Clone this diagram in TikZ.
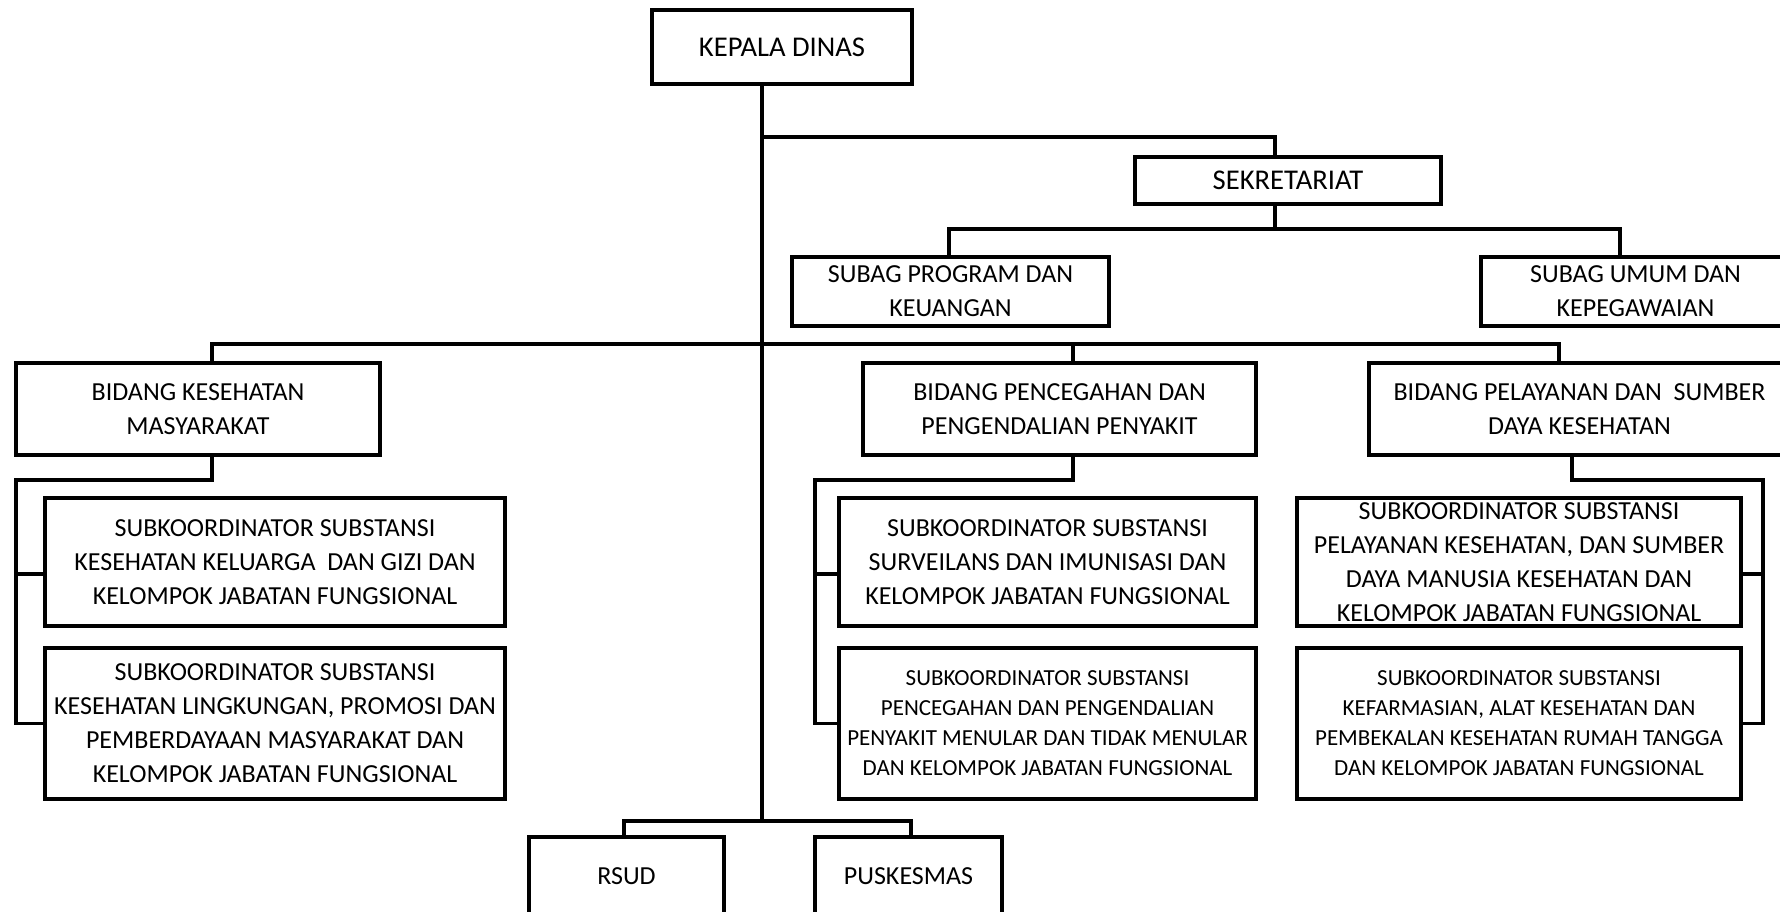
\documentclass[tikz,border=0pt]{standalone}
\usepackage{fontspec}
\setmainfont{Carlito}
\begin{document}
\begin{tikzpicture}[x=0.5pt,y=-0.5pt,
  box/.style={draw,line width=1.6pt,rectangle,inner sep=0pt,align=center},
  big/.style={font=\fontsize{14.3}{17}\selectfont},
  mid/.style={font=\fontsize{13}{17}\selectfont},
  small/.style={font=\fontsize{11.5}{15}\selectfont},
  conn/.style={line width=1.6pt}]
\useasboundingbox (0,0) rectangle (1780,911);
\clip (0,0) rectangle (1780,911);

% head and secretariat
\node[box,big,minimum width=130pt,minimum height=37pt] (kd) at (782,47) {KEPALA DINAS};
\node[box,big,minimum width=153pt,minimum height=23.5pt] (sek) at (1288,180.5) {SEKRETARIAT};
\node[box,mid,minimum width=158.5pt,minimum height=34.5pt] (sp) at (950.5,291.5) {SUBAG PROGRAM DAN\\KEUANGAN};
\node[box,mid,minimum width=154.5pt,minimum height=34.5pt] (su) at (1635.5,291.5) {SUBAG UMUM DAN\\KEPEGAWAIAN};

% divisions
\node[box,mid,minimum width=182pt,minimum height=46pt] (bk) at (198,409) {BIDANG KESEHATAN\\MASYARAKAT};
\node[box,mid,minimum width=196.5pt,minimum height=46pt] (bp) at (1059.5,409) {BIDANG PENCEGAHAN DAN\\PENGENDALIAN PENYAKIT};
\node[box,mid,minimum width=210.5pt,minimum height=46pt] (bl) at (1579.5,409) {BIDANG PELAYANAN DAN\ \ SUMBER\\DAYA KESEHATAN};

% sub-coordinators
\node[box,mid,minimum width=230pt,minimum height=64pt] (k1) at (275,562) {SUBKOORDINATOR SUBSTANSI\\KESEHATAN KELUARGA\ \ DAN GIZI DAN\\KELOMPOK JABATAN FUNGSIONAL};
\node[box,mid,minimum width=230pt,minimum height=75.5pt] (k2) at (275,723.5) {SUBKOORDINATOR SUBSTANSI\\KESEHATAN LINGKUNGAN, PROMOSI DAN\\PEMBERDAYAAN MASYARAKAT DAN\\KELOMPOK JABATAN FUNGSIONAL};
\node[box,mid,minimum width=208.5pt,minimum height=64pt] (p1) at (1047.5,562) {SUBKOORDINATOR SUBSTANSI\\SURVEILANS DAN IMUNISASI DAN\\KELOMPOK JABATAN FUNGSIONAL};
\node[box,small,minimum width=208.5pt,minimum height=75.5pt] (p2) at (1047.5,723.5) {SUBKOORDINATOR SUBSTANSI\\PENCEGAHAN DAN PENGENDALIAN\\PENYAKIT MENULAR DAN TIDAK MENULAR\\DAN KELOMPOK JABATAN FUNGSIONAL};
\node[box,mid,minimum width=222pt,minimum height=64pt] (l1) at (1519,562) {SUBKOORDINATOR SUBSTANSI\\PELAYANAN KESEHATAN, DAN SUMBER\\DAYA MANUSIA KESEHATAN DAN\\KELOMPOK JABATAN FUNGSIONAL};
\node[box,small,minimum width=222pt,minimum height=75.5pt] (l2) at (1519,723.5) {SUBKOORDINATOR SUBSTANSI\\KEFARMASIAN, ALAT KESEHATAN DAN\\PEMBEKALAN KESEHATAN RUMAH TANGGA\\DAN KELOMPOK JABATAN FUNGSIONAL};

% units
\node[box,mid,minimum width=97.5pt,minimum height=39pt] (rsud) at (626.5,876) {RSUD};
\node[box,mid,minimum width=93.5pt,minimum height=39pt] (pk) at (908.5,876) {PUSKESMAS};

% junction points
\coordinate (jT) at (762,84);
\coordinate (jSek) at (1275,137);
\coordinate (dSP) at (949,229);
\coordinate (dSU) at (1620,229);
\coordinate (dBK) at (212,344);
\coordinate (dBP) at (1073,344);
\coordinate (dBL) at (1559,344);
\coordinate (kBus) at (16,480);
\coordinate (kT1) at (16,574);
\coordinate (pBus) at (815,480);
\coordinate (pT1) at (815,574);
\coordinate (lDrop) at (1572,480);
\coordinate (lBus) at (1763,480);
\coordinate (lT1) at (1763,574);
\coordinate (rBar) at (762,821);
\coordinate (dR) at (624,821);
\coordinate (dP) at (911,821);

% trunk
\draw[conn] (jT) -- (rBar);
% secretariat
\draw[conn] (jT |- jSek) -- (jSek) -- (jSek |- sek.north);
\draw[conn] (jSek |- sek.south) -- (jSek |- dSP);
\draw[conn] (dSP |- sp.north) -- (dSP) -- (dSU) -- (dSU |- su.north);
% divisions
\draw[conn] (dBK |- bk.north) -- (dBK) -- (dBL) -- (dBL |- bl.north);
\draw[conn] (dBP) -- (dBP |- bp.north);
% left group
\draw[conn] (dBK |- bk.south) |- (kBus) -- (kBus |- k2.west) -- (k2.west);
\draw[conn] (kT1) -- (kT1 -| k1.west);
% middle group
\draw[conn] (dBP |- bp.south) |- (pBus) -- (pBus |- p2.west) -- (p2.west);
\draw[conn] (pT1) -- (pT1 -| p1.west);
% right group
\draw[conn] (lDrop |- bl.south) -- (lDrop) -- (lBus) -- (lBus |- l2.east) -- (l2.east);
\draw[conn] (lT1) -- (lT1 -| l1.east);
% units
\draw[conn] (dR |- rsud.north) -- (dR) -- (dP) -- (dP |- pk.north);
\end{tikzpicture}
\end{document}
